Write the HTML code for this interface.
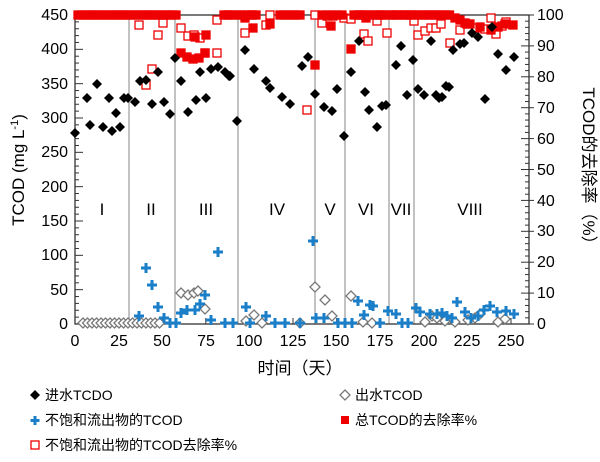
<!DOCTYPE html>
<html><head><meta charset="utf-8"><style>
body{margin:0;background:#fff}
svg{display:block;font-family:"Liberation Sans","Noto Sans CJK SC",sans-serif}
</style></head><body>
<svg id="s" width="600" height="462" viewBox="0 0 600 462" xmlns="http://www.w3.org/2000/svg">
<g stroke="#999" stroke-width="1.2">
<line x1="129" y1="15" x2="129" y2="324"/><line x1="175" y1="15" x2="175" y2="324"/>
<line x1="238" y1="15" x2="238" y2="324"/><line x1="315" y1="15" x2="315" y2="324"/>
<line x1="345" y1="15" x2="345" y2="324"/><line x1="389" y1="15" x2="389" y2="324"/>
<line x1="414" y1="15" x2="414" y2="324"/>
</g>
<rect x="75" y="15" width="454" height="309" fill="none" stroke="#333" stroke-width="1.3"/>
<g id="ticks" stroke="#333" stroke-width="1"></g>
<g font-size="16" fill="#000" text-anchor="end">
<text x="68" y="20">450</text><text x="68" y="54">400</text><text x="68" y="89">350</text>
<text x="68" y="123">300</text><text x="68" y="157">250</text><text x="68" y="192">200</text>
<text x="68" y="226">150</text><text x="68" y="260">100</text><text x="68" y="295">50</text>
<text x="68" y="329">0</text>
</g>
<g font-size="16" fill="#000" text-anchor="start">
<text x="537" y="20">100</text><text x="537" y="51">90</text><text x="537" y="82">80</text>
<text x="537" y="113">70</text><text x="537" y="144">60</text><text x="537" y="175">50</text>
<text x="537" y="206">40</text><text x="537" y="236">30</text><text x="537" y="267">20</text>
<text x="537" y="298">10</text><text x="537" y="329">0</text>
</g>
<g font-size="16" fill="#000" text-anchor="middle">
<text x="75" y="346">0</text><text x="119" y="346">25</text><text x="162" y="346">50</text>
<text x="206" y="346">75</text><text x="249" y="346">100</text><text x="293" y="346">125</text>
<text x="336" y="346">150</text><text x="380" y="346">175</text><text x="424" y="346">200</text>
<text x="467" y="346">225</text><text x="511" y="346">250</text>
<text x="300" y="374" font-size="17">时间（天）</text>
</g>
<g font-size="17" fill="#000" text-anchor="middle">
<text x="102" y="215">I</text><text x="151" y="215">II</text><text x="206" y="215">III</text>
<text x="277" y="215">IV</text><text x="330" y="215">V</text><text x="366" y="215">VI</text>
<text x="401" y="215">VII</text><text x="470" y="215">VIII</text>
</g>
<text transform="translate(24,170) rotate(-90)" font-size="17" text-anchor="middle">TCOD (mg L<tspan dy="-6" font-size="11">-1</tspan><tspan dy="6">)</tspan></text>
<text transform="translate(583,170) rotate(90)" font-size="17" text-anchor="middle">TCOD的去除率（%）</text>
<g id="pts"></g>
<g font-size="14" fill="#000">
<path d="M35 390 l5 5 l-5 5 l-5 -5z" fill="#000"/><text x="45" y="400">进水TCDO</text>
<path d="M345 390 l5 5 l-5 5 l-5 -5z" fill="#fff" stroke="#777" stroke-width="1.3"/><text x="355" y="400">出水TCOD</text>
<path d="M35 416 v9 M30.5 420.5 h9" stroke="#1a7fc8" stroke-width="3"/><text x="45" y="425">不饱和流出物的TCOD</text>
<rect x="341" y="416" width="8" height="8" fill="#e00"/><text x="355" y="425">总TCOD的去除率%</text>
<rect x="31" y="441" width="8" height="8" fill="#fff" stroke="#e00" stroke-width="1.3"/><text x="45" y="450">不饱和流出物的TCOD去除率%</text>
</g>
</svg>
<script>
const NS="http://www.w3.org/2000/svg",g=document.getElementById('pts'),t=document.getElementById('ticks');
function el(n,a,p){const e=document.createElementNS(NS,n);for(const k in a)e.setAttribute(k,a[k]);(p||g).appendChild(e);}
// ticks
for(let v=0;v<=450;v+=10){const y=324-v*309/450;el('line',{x1:75,x2:75+(v%50?4:8),y1:y,y2:y},t);}
for(let v=0;v<=100;v+=2){const y=324-v*3.09;el('line',{x1:529,x2:529-(v%10?4:8),y1:y,y2:y},t);el('line',{x1:529,x2:529+(v%10?0:5),y1:y,y2:y},t);}
for(let v=0;v<=250;v+=25){const x=75+v*1.744;el('line',{x1:x,x2:x,y1:324,y2:318},t);}
const dia=(x,y,f,s)=>el('path',{d:`M${x} ${y-5} l5 5 l-5 5 l-5 -5z`,fill:f,stroke:s||'none','stroke-width':1.3});
const sq=(x,y,f)=>el('rect',{x:x-4,y:y-4,width:8,height:8,fill:f?'#e00':'#fff',stroke:'#e00','stroke-width':1.3});
const cr=(x,y)=>el('path',{d:`M${x} ${y-5} v10 M${x-5} ${y} h10`,stroke:'#1a7fc8','stroke-width':3});
// open red squares
[[139,25],[152,69],[146,85],[158,35],[163,23],[181,28],[188,36],[194,35],[200,38],[205,53],[217,53],[217,20],[227,15],[245,33],[252,15],[266,25],[270,15],[307,110],[322,23],[333,16],[344,18],[351,19],[364,34],[368,41],[377,21],[387,33],[414,21],[418,35],[425,31],[431,28],[436,28],[441,24],[450,43],[460,30],[467,24],[476,28],[485,29],[491,18],[496,34],[502,26],[506,22],[315,15],[327,16],[360,15],[380,15],[396,15],[405,15]].forEach(p=>sq(p[0],p[1],false));
// filled red squares
for(let x=78;x<=176;x+=3.5)sq(x,15,true);
for(let x=224;x<=258;x+=4)sq(x,15,true);
for(let x=280;x<=302;x+=4)sq(x,15,true);
for(let x=322;x<=342;x+=5)sq(x,15,true);
for(let x=354;x<=400;x+=4)sq(x,15,true);
for(let x=404;x<=452;x+=3.5)sq(x,15,true);
[[181,53],[187,57],[193,59],[199,58],[205,53],[206,35],[195,37],[245,18],[253,28],[270,24],[315,65],[331,26],[351,49],[366,18],[455,18],[460,20],[465,23],[470,24],[480,27],[491,30],[498,27],[505,24],[513,25]].forEach(p=>sq(p[0],p[1],true));
// black diamonds
[[75,133],[87,98],[90,125],[97,84],[103,127],[109,98],[112,131],[116,113],[120,127],[124,98],[128,98],[135,102],[140,81],[146,80],[152,104],[158,72],[164,102],[170,114],[175,58],[181,81],[188,112],[196,100],[200,72],[206,98],[211,69],[218,67],[225,72],[229,76],[230,76],[237,121],[245,50],[254,69],[266,81],[270,88],[282,97],[290,104],[302,66],[308,57],[315,94],[324,107],[332,111],[337,89],[344,136],[351,72],[359,41],[365,92],[369,110],[377,127],[382,106],[386,105],[396,65],[401,46],[407,95],[413,60],[418,89],[424,95],[431,41],[436,95],[439,98],[442,97],[446,86],[449,87],[453,50],[460,44],[464,43],[472,33],[478,37],[485,99],[492,27],[498,54],[506,70],[514,57]].forEach(p=>dia(p[0],p[1],'#000'));
// gray open diamonds
for(let x=83;x<=160;x+=4.5)dia(x,323,'#fff','#777');
[[181,293],[188,295],[194,293],[198,291],[205,309],[254,315],[246,321],[315,287],[325,300],[332,316],[351,296],[363,322],[432,316],[437,318],[475,318],[480,314],[505,319],[498,322],[262,323],[300,323],[372,323],[425,322],[445,321],[455,322],[468,320]].forEach(p=>dia(p[0],p[1],'#fff','#777'));
// blue crosses
[[139,316],[146,268],[152,285],[158,307],[164,318],[181,313],[187,310],[195,310],[200,304],[205,295],[211,320],[218,252],[246,307],[266,316],[313,241],[316,318],[324,318],[358,301],[364,315],[370,305],[373,306],[388,311],[396,314],[416,308],[420,312],[430,314],[437,314],[442,313],[447,316],[452,318],[457,302],[465,312],[471,318],[478,316],[484,310],[490,306],[497,312],[506,311],[514,314],[170,323],[176,323],[225,323],[233,323],[250,323],[275,323],[285,323],[300,323],[338,323],[345,323],[352,323],[380,323],[402,323],[408,323]].forEach(p=>cr(p[0],p[1]));
</script>
</body></html>
